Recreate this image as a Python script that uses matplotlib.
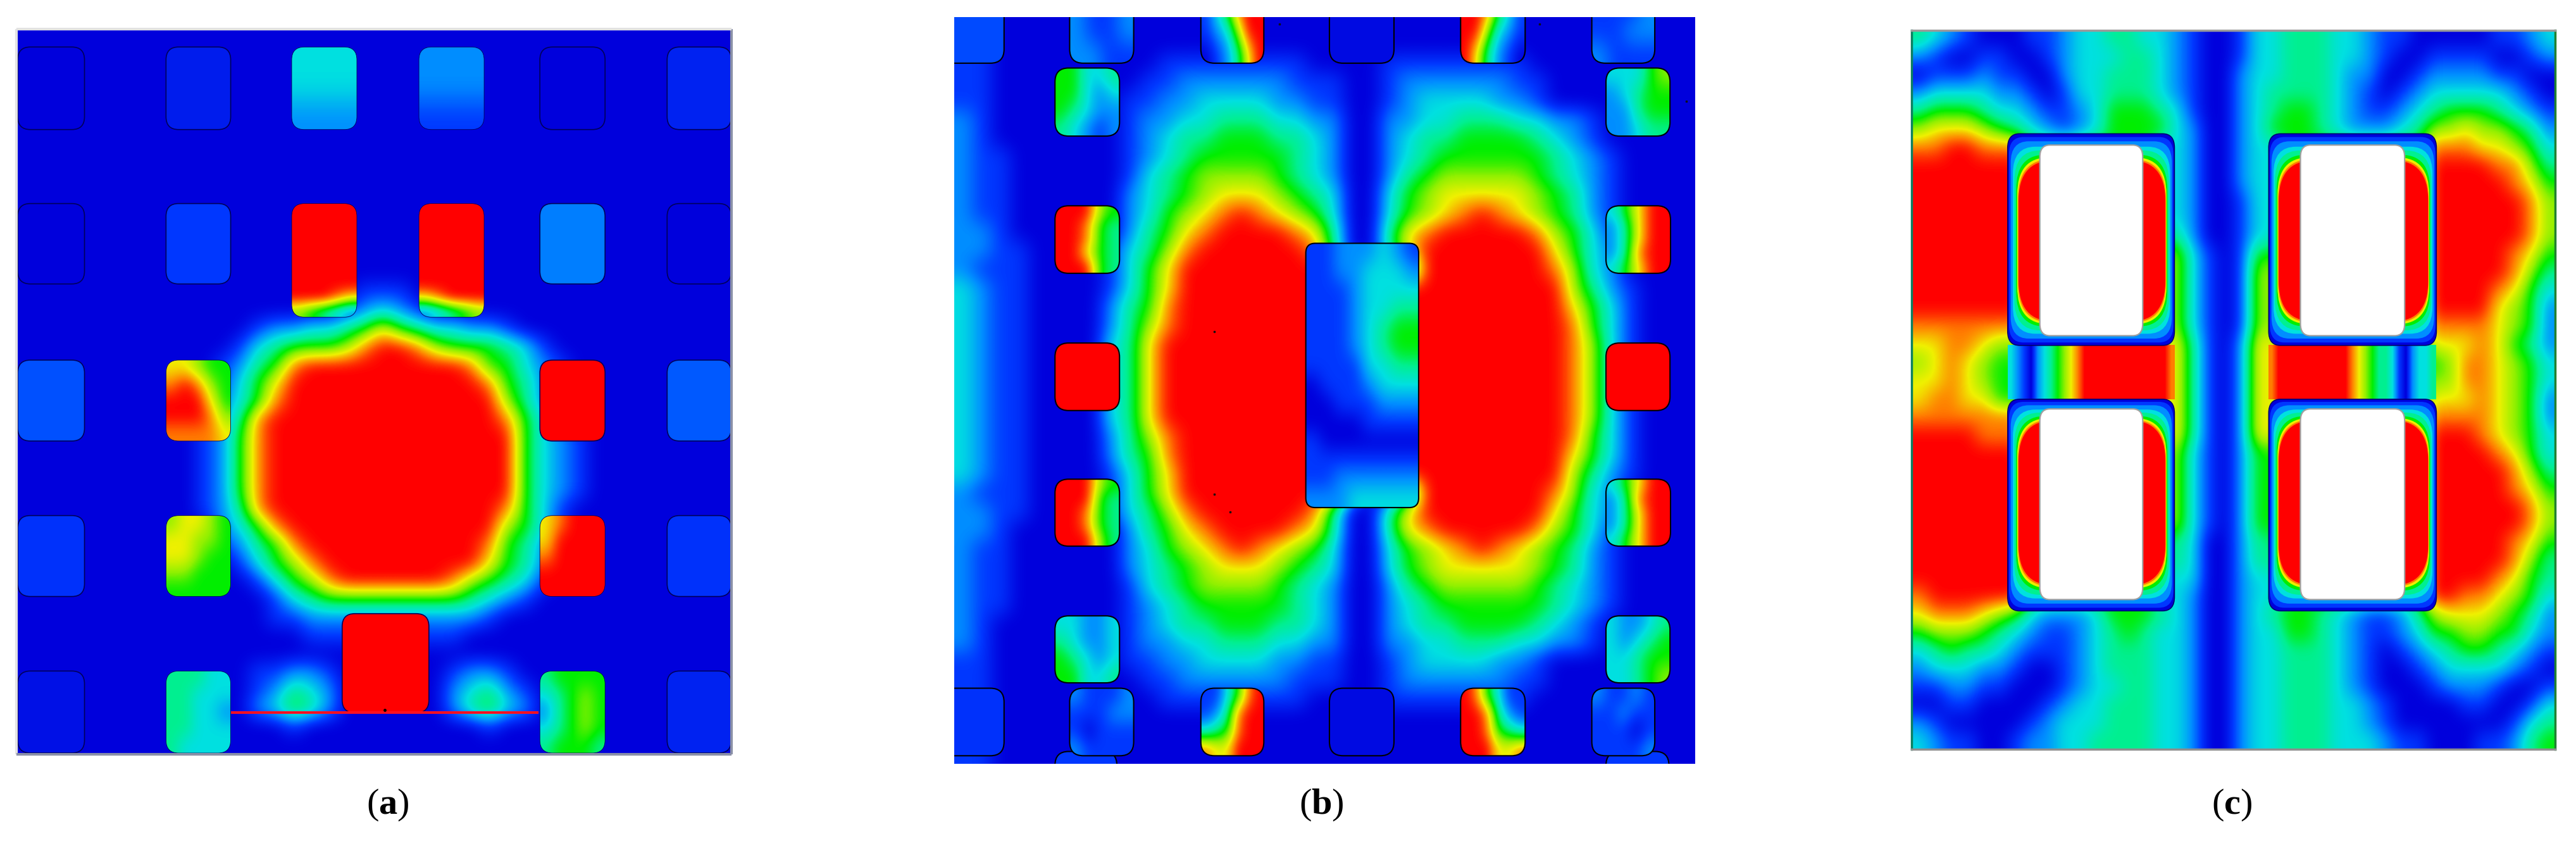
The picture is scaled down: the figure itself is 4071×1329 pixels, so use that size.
# field plots, three panels, values on a coarse grid
import numpy as np
import matplotlib
matplotlib.use("Agg")
import matplotlib.pyplot as plt
from matplotlib.colors import LinearSegmentedColormap
from matplotlib.patches import FancyBboxPatch

W, H = 4071, 1329
LEVEL_COLORS = ["#0000DC", "#0038FF", "#0090FF", "#00E0E0", "#00F090",
                "#00EE00", "#90F000", "#F0F000", "#FF8000", "#FF0000"]

# panel a: field rows by row number, everything else is background
A_FIELD = {
    14: "00000 00000 00000 00001 11000",
    15: "00000 00000 00000 00012 32100",
    16: "00000 00000 00012 23345 75433 22100",
    17: "00000 00000 00134 55568 99865 55431",
    18: "00000 00000 01245 89999 99999 85532 1",
    19: "00000 00000 01357 99999 99999 98542 1",
    20: "00000 00000 02358 99999 99999 99642 1",
    21: "00000 00000 12489 99999 99999 99853 1",
    22: "00000 00000 12589 99999 99999 99953 21",
    23: "00000 00000 12589 99999 99999 99953 21",
    24: "00000 00000 12589 99999 99999 99953 21",
    25: "00000 00000 12589 99999 99999 99953 21",
    26: "00000 00000 12489 99999 99999 99853 1",
    27: "00000 00000 02358 99999 99999 99653 1",
    28: "00000 00000 01245 89999 99999 98542 1",
    29: "00000 00000 00135 68999 99999 97542 1",
    30: "00000 00000 00013 56899 99998 65431",
    31: "00000 00000 00001 34555 55555 43210",
    32: "00000 00000 00001 12222 22222 21000",
    33: "00000 00000 00000 01111 11111 00000",
    35: "00000 00000 00011 22100 00001 22100",
    36: "00000 00000 00012 43200 00002 34210",
    37: "00000 00000 00023 54200 00002 45320",
    38: "00000 00000 00000 10000 00000 01000",
}
A_PLAIN = [
    (35, 88, 162, 242, 0.0), (317, 88, 440, 242, 0.5), (1028, 88, 1152, 242, 0.0), (1270, 88, 1392, 242, 0.6),
    (35, 380, 162, 530, 0.0), (317, 380, 440, 530, 1.0), (1028, 380, 1152, 530, 1.8), (1270, 380, 1392, 530, 0.0),
    (35, 672, 162, 823, 1.3), (1028, 672, 1152, 823, 9.0), (1270, 672, 1392, 823, 1.4),
    (35, 962, 162, 1113, 0.9), (1270, 962, 1392, 1113, 0.9),
    (35, 1252, 162, 1405, 0.3), (1270, 1252, 1392, 1405, 0.6),
    (652, 1145, 817, 1330, 9.0),
]
A_GRADED = [
    (556, 88, 680, 242, ["333", "333", "222"]),
    (798, 88, 922, 242, ["222", "222", "111"]),
    (556, 380, 680, 592, ["99999"] * 7 + ["99987", "65432"]),
    (798, 380, 922, 592, ["99999"] * 7 + ["78999", "23456"]),
    (317, 672, 440, 823, ["77655", "89865", "99975", "99986", "88887"]),
    (317, 962, 440, 1113, ["67765", "77665", "77655", "66555", "55555"]),
    (1028, 962, 1152, 1113, ["78999", "79999", "89999", "99999", "99999"]),
    (317, 1252, 440, 1405, ["44433", "44333", "44332", "44333", "43333"]),
    (1028, 1252, 1152, 1405, ["45555", "34565", "24565", "34565", "45554"]),
]
A_LINE_X = [440, 1025]
A_LINE_Y = [1330, 1330]
A_DOT = (733, 1325)

# panel b
B_FIELD = [
    "11000 00000 00000 00000",
    "11000 00000 00000 00000",
    "11000 00000 01111 11110 00011 11111 10000",
    "11000 00000 11222 22211 10012 22222 11000",
    "11000 00001 12233 33221 10012 33332 21000",
    "21000 00001 22334 44332 20022 33444 33221",
    "21000 00001 23445 55443 20023 44555 54321",
    "21100 00001 23455 55543 20023 45555 55432 1",
    "21100 00001 34566 66543 20024 56666 65432 1",
    "21100 00002 34567 77654 30035 67777 76542 1",
    "21100 00002 35678 98765 30035 67898 76542 1",
    "22100 00002 45789 99987 40047 89999 98653 1",
    "22110 00013 46899 99998 40047 99999 99753 21",
    "21110 00013 57999 99999 93003 99999 99863 2",
    "32110 00013 57999 99999 99999 99999 99964 21",
    "32110 00024 58999 99999 99999 99999 99975 31",
    "32110 00024 68999 99999 99999 99999 99985 31",
    "32110 00034 79999 99999 99999 99999 99986 31",
    "32110 00034 79999 99999 99999 99999 99986 31",
    "32110 00034 79999 99999 99999 99999 99986 31",
    "32110 00034 79999 99999 99999 99999 99986 31",
    "32110 00034 79999 99999 99999 99999 99986 31",
    "32110 00024 68999 99999 99999 99999 99985 31",
    "32110 00024 58999 99999 99999 99999 99975 31",
    "32110 00013 57999 99999 99999 99999 99964 21",
    "21110 00013 57999 99999 93003 99999 99863 2",
    "22110 00013 46899 99998 40047 99999 99753 21",
    "22100 00002 45789 99987 40047 89999 98653 1",
    "21100 00002 35678 98765 30035 67898 76542 1",
    "21100 00002 34567 77654 30035 67777 76542 1",
    "21100 00001 34566 66543 20024 56666 65432 1",
    "21100 00001 23455 55543 20023 45555 55432 1",
    "21000 00001 23445 55443 20023 44555 54321",
    "21000 00001 22334 44332 20022 33444 33221",
    "11000 00001 12233 33221 10012 33332 21000",
    "11000 00000 11222 22211 10012 22222 11000",
    "11000 00000 01111 11110 00011 11111 10000",
    "11000 00000 00000 00000",
    "11000 00000 00000 00000",
    "11000 00000 00000 00000",
]
B_PLAIN = [
    (40, 0, 165, 116, 1.2), (785, 0, 908, 116, 0.2),
    (40, 1282, 165, 1408, 0.9), (785, 1282, 908, 1408, 0.2),
    (262, 1400, 380, 1480, 1.0), (1312, 1400, 1432, 1480, 1.0),
    (262, 638, 385, 764, 9.0), (1312, 638, 1434, 764, 9.0),
]
B_GRADED = [
    (290, 0, 412, 116, ["2112", "2112", "2211"]),
    (1285, 0, 1405, 116, ["1112", "1122", "2111"]),
    (540, 0, 660, 116, ["135899", "123699", "012479"]),
    (1035, 0, 1158, 116, ["998531", "996321", "974210"]),
    (262, 125, 385, 252, ["55334", "55323", "54322", "43212"]),
    (1312, 125, 1434, 252, ["33356", "23455", "22455", "22344"]),
    (262, 382, 385, 508, ["99965", "99854", "99854", "99754", "99954"]),
    (1312, 382, 1435, 508, ["35799", "24799", "24799", "24899", "35799"]),
    (262, 892, 385, 1017, ["99965", "99954", "99854", "99854", "99964"]),
    (1312, 892, 1435, 1017, ["35799", "24899", "24799", "24799", "35799"]),
    (262, 1147, 385, 1272, ["33223", "43223", "54323", "55334"]),
    (1312, 1147, 1434, 1272, ["32234", "32345", "33455", "33456"]),
    (290, 1282, 412, 1408, ["21112", "11122", "10111", "21111"]),
    (1285, 1282, 1405, 1408, ["21121", "11211", "11101", "11112"]),
    (540, 1282, 660, 1408, ["113589", "124899", "345899", "877999"]),
    (1035, 1282, 1158, 1408, ["985311", "998421", "998543", "999778"]),
    (740, 452, 955, 945, ["11222321", "11223332", "11123333", "11123344",
                          "11123455", "11123455", "11113344", "01112333",
                          "00111222", "00001111", "10000000", "11111111",
                          "11222222", "22233333"]),
]
B_DOTS_X = [565, 565, 596, 690, 1185, 1465]
B_DOTS_Y = [617, 920, 953, 43, 43, 187]

# panel c
C_FIELD = [
    "43210 00112 33443 32100 13344 43321 10000 01123",
    "21001 10012 33344 32100 13344 43321 00111 10012",
    "01112 11002 33444 32100 23344 43220 01222 21100",
    "23333 22101 33444 32100 23444 43210 12333 33210",
    "45554 33211 23555 43100 23455 43211 23455 54321",
    "67776 54321 23555 53200 23555 43222 34667 66542",
    "88998 88555 55555 33200 23355 55555 55888 77653",
    "99999 99555 55555 33200 23355 55555 55999 98864",
    "99999 99555 55555 33200 23355 55555 55999 99875",
    "99999 99555 55555 33200 13355 55555 55999 99986",
    "99999 99555 55555 33200 13355 55555 55999 99986",
    "99999 99555 55555 44200 13355 55555 55999 99986",
    "99999 99555 55555 66310 15555 55555 55999 99875",
    "99999 99555 55555 66310 16655 55555 55999 99864",
    "99999 99555 55555 66310 16655 55555 55999 98753",
    "99999 99555 55555 66310 16655 55555 55999 97652",
    "88888 88555 55555 66310 16655 55555 55888 87652",
    "77887 66555 55555 77410 27755 55555 55777 87542",
    "67876 55555 55555 77410 27755 55555 55568 87653",
    "77876 55555 55555 77410 27755 55555 55668 87653",
    "78877 55555 55555 77410 27755 55555 55777 87652",
    "88888 88555 55555 77410 27755 55555 55888 87652",
    "99998 88555 55555 77410 27755 55555 55999 87653",
    "99999 99555 55555 66310 25555 55555 55999 98753",
    "99999 99555 55555 66310 25555 55555 55999 99864",
    "99999 99555 55555 66310 25555 55555 55999 99875",
    "99999 99555 55555 66310 25555 55555 55999 99986",
    "99999 99555 55555 66310 25555 55555 55999 99986",
    "99999 99555 55555 44300 24455 55555 55999 99875",
    "99999 99555 55555 44300 24455 55555 55999 99864",
    "99999 99555 55555 33300 23355 55555 55999 98754",
    "89999 99555 55555 33200 23355 55555 55998 87653",
    "78887 65322 23555 43200 23455 43211 24677 76542",
    "56665 43211 23454 33200 23355 43211 23556 65532",
    "34544 32111 23444 33200 23344 43210 12345 54321",
    "23332 21001 23444 33200 23344 43210 01233 33210",
    "11221 10001 23344 33200 23344 43210 00122 21001",
    "00110 00012 33444 33200 23344 43321 00001 10013",
    "21000 00123 33444 33200 23344 43321 00000 00134",
    "32110 01223 34444 33200 23344 43332 11000 11245",
]
C_FRAMES = [(312, 252, 680, 645), (888, 252, 1258, 645),
            (312, 745, 680, 1138), (888, 745, 1258, 1138)]
C_RED = [(336, 302, 660, 600), (910, 302, 1240, 600),
         (336, 785, 660, 1090), (910, 785, 1240, 1090)]
C_HOLES = [(383, 273, 610, 627), (958, 273, 1188, 627),
           (383, 763, 610, 1117), (958, 763, 1188, 1117)]
C_RING_STEPS = [0.0, 0.12, 0.28, 0.48, 0.62, 0.78, 0.88, 0.95, 1.0]
C_RING_VALUES = [0, 1, 2, 3, 4, 5, 7, 8, 9]
C_STRIP_LEFT = "32102345678" + "9999999999999" + "8"
C_STRIP_RIGHT = "8" + "99999999999" + "8765443102334"

LABELS = ["a", "b", "c"]
LABEL_X = [613, 2088, 3527]
LABEL_Y = 1272


def parse(rows, ncols=None):
    out = []
    for r in rows:
        digits = [int(c) for c in r.replace(" ", "")]
        if ncols is not None:
            digits = digits + [0] * (ncols - len(digits))
        out.append(digits)
    return np.array(out, dtype=float)


def rounded(x0, y0, x1, y1, r, **kw):
    return FancyBboxPatch((x0 + r, y0 + r), x1 - x0 - 2 * r, y1 - y0 - 2 * r,
                          boxstyle=f"round,pad={r},rounding_size={r}", **kw)


def show_grid(ax, grid, box, interp="bicubic", zorder=1):
    x0, y0, x1, y1 = box
    return ax.imshow(grid, cmap=cmap, vmin=0, vmax=9, aspect="auto", origin="upper",
                     extent=(x0, x1, y1, y0), interpolation=interp, zorder=zorder)


def plain_cell(ax, cell, r, edge, lw):
    x0, y0, x1, y1, v = cell
    ax.add_patch(rounded(x0, y0, x1, y1, r, facecolor=cmap(v / 9), edgecolor=edge,
                         linewidth=lw, zorder=3))


def graded_cell(ax, cell, r, edge, lw):
    x0, y0, x1, y1, rows = cell
    im = show_grid(ax, parse(rows), (x0, y0, x1, y1), zorder=3)
    clip = rounded(x0, y0, x1, y1, r, facecolor="none", edgecolor=edge, linewidth=lw, zorder=4)
    ax.add_patch(clip)
    im.set_clip_path(clip)


def panel_axes(fig, x0, y0, x1, y1):
    ax = fig.add_axes([x0 / W, 1 - y1 / H, (x1 - x0) / W, (y1 - y0) / H])
    ax.set_xticks([])
    ax.set_yticks([])
    return ax


plt.rcParams["mathtext.fontset"] = "custom"
plt.rcParams["mathtext.bf"] = "Liberation Serif:bold"
plt.rcParams["mathtext.rm"] = "Liberation Serif"

cmap = LinearSegmentedColormap.from_list("field", LEVEL_COLORS, N=256)
fig = plt.figure(figsize=(W / 100, H / 100), dpi=100, facecolor="white")

# (a)
ax = panel_axes(fig, 28, 48, 1154, 1190)
field_a = parse([A_FIELD.get(i, "0") for i in range(40)], 40)
show_grid(ax, field_a, (35, 57, 1390, 1405))
for cell in A_PLAIN:
    plain_cell(ax, cell, 24, "#00005A", 1.2)
for cell in A_GRADED:
    graded_cell(ax, cell, 24, "#00005A", 0.6)
ax.plot(A_LINE_X, A_LINE_Y, color="#FF1020", lw=3, zorder=5, solid_capstyle="butt")
ax.plot([A_DOT[0]], [A_DOT[1]], "o", color="black", ms=2.5, zorder=6)
ax.set_xlim(35, 1390)
ax.set_ylim(1405, 57)
for side, col in zip(["top", "left", "right", "bottom"], ["#E2E2E2", "#E2E2E2", "#8A90A8", "#8A90A8"]):
    ax.spines[side].set_color(col)
    ax.spines[side].set_linewidth(3)
    ax.spines[side].set_position(("outward", 1.5))

# (b)
ax = panel_axes(fig, 1508, 27, 2679, 1207)
show_grid(ax, parse(B_FIELD, 40), (70, 30, 1482, 1423))
for cell in B_PLAIN:
    plain_cell(ax, cell, 26, "black", 1.5)
for cell in B_GRADED:
    graded_cell(ax, cell, 18 if cell[2] - cell[0] > 200 else 26, "black", 1.5)
ax.plot(B_DOTS_X, B_DOTS_Y, "s", color="#101010", ms=1.8, zorder=6)
ax.set_xlim(70, 1482)
ax.set_ylim(1423, 30)
for spine in ax.spines.values():
    spine.set_visible(False)

# (c)
ax = panel_axes(fig, 3021, 48, 4038, 1184)
show_grid(ax, parse(C_FIELD, 40), (100, 60, 1520, 1395))
for digits, (x0, x1) in zip([C_STRIP_LEFT, C_STRIP_RIGHT], [(312, 680), (888, 1258)]):
    row = [int(c) for c in digits]
    show_grid(ax, np.array([row, row], dtype=float), (x0, 645, x1, 745), interp="bilinear", zorder=2)
for frame, red, hole in zip(C_FRAMES, C_RED, C_HOLES):
    for step, val in zip(C_RING_STEPS, C_RING_VALUES):
        box = [f + step * (t - f) for f, t in zip(frame, red)]
        edge = "#000070" if step == 0 else "none"
        ax.add_patch(rounded(*box, 26 + 49 * step, facecolor=cmap(val / 9), edgecolor=edge,
                             linewidth=1.2, zorder=3 + step))
    ax.add_patch(rounded(*hole, 22, facecolor="white", edgecolor="#A0A0A0", linewidth=1.6, zorder=5))
ax.set_xlim(100, 1520)
ax.set_ylim(1395, 60)
for side, col in zip(["top", "bottom", "left", "right"], ["#9A9A9A", "#8E8E8E", "#0A8060", "#208030"]):
    ax.spines[side].set_color(col)
    ax.spines[side].set_linewidth(2.5)

for name, x in zip(LABELS, LABEL_X):
    fig.text(x / W, 1 - LABEL_Y / H, rf"($\mathbf{{{name}}}$)", family="Liberation Serif",
             fontsize=42, ha="center", va="center", color="black")

fig.savefig("out.png", dpi=100, facecolor="white")
